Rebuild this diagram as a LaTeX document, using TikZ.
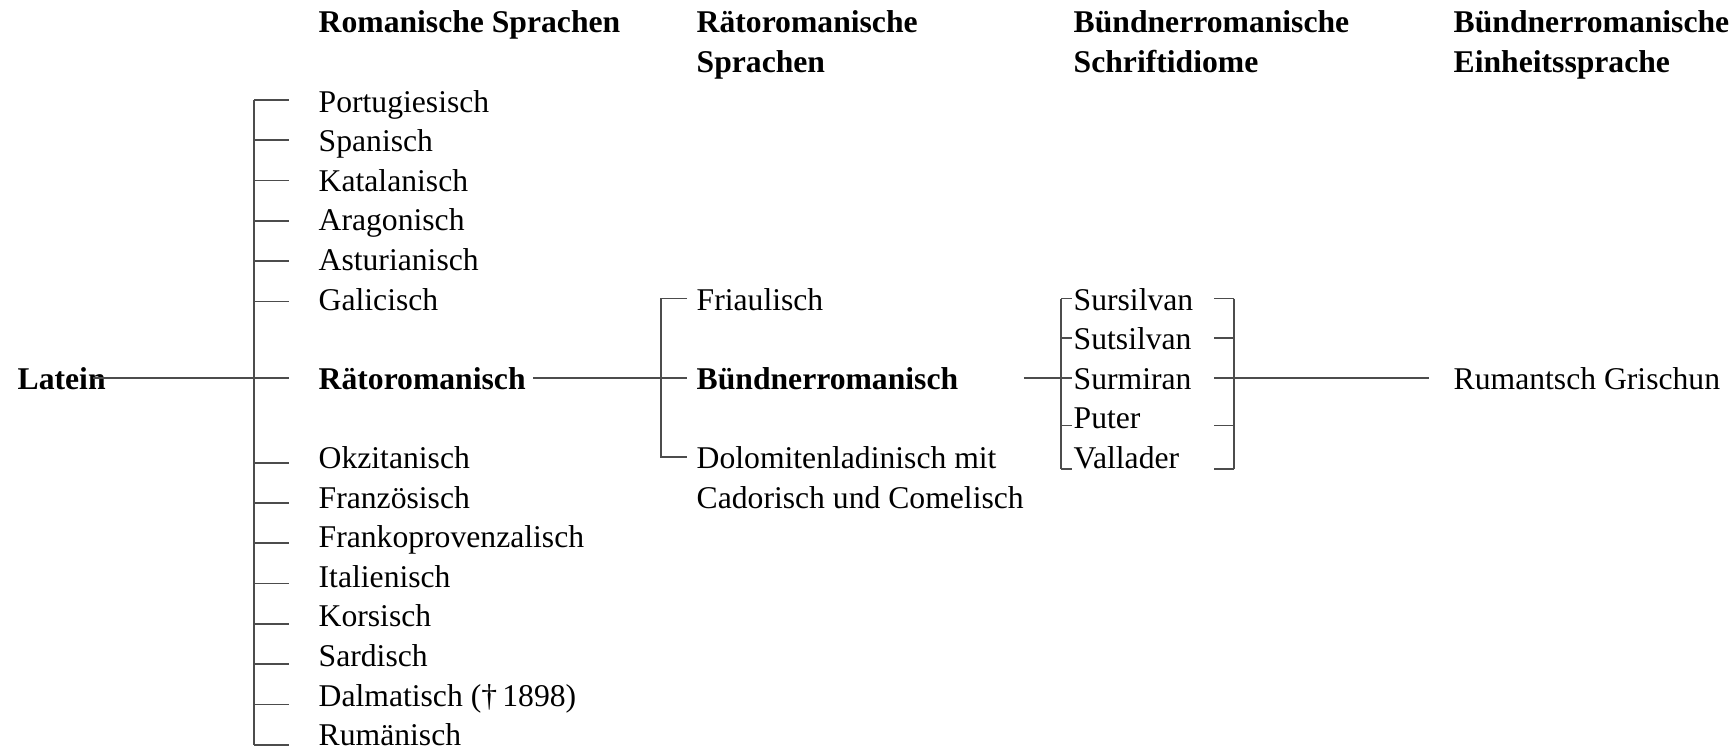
\documentclass[tikz,border=0pt]{standalone}
\usepackage{fontspec}
\setmainfont{Liberation Serif}
\usepackage{tikz}
\usetikzlibrary{positioning}

\newcommand{\diafont}{\fontsize{9}{11.27}\selectfont}

\tikzset{
  lang/.style={anchor=west, inner sep=0pt, text height=6.5pt, text depth=0pt, font=\diafont},
  bold/.style={font=\diafont\bfseries},
  head/.style={anchor=base west, inner sep=0pt, align=left, font=\diafont\bfseries},
  conn/.style={draw=black!70, line width=0.5pt},
}

\begin{document}
\begin{tikzpicture}[x=0.01cm, y=-0.01cm]
  \useasboundingbox (0,0) rectangle (1734,748);

  \node[head] (h1) at (318,32.8) {Romanische Sprachen};
  \node[head] (h2) at (696,72.4) {Rätoromanische\\Sprachen};
  \node[head] (h3) at (1073,72.4) {Bündnerromanische\\Schriftidiome};
  \node[head] (h4) at (1453,72.4) {Bündnerromanische\\Einheitssprache};

  \node[lang, bold] (latein) at (17,100.6+39.6*7) {Latein};

  \foreach \name/\k in {Portugiesisch/0, Spanisch/1, Katalanisch/2, Aragonisch/3,
      Asturianisch/4, Galicisch/5, Okzitanisch/9, Französisch/10,
      Frankoprovenzalisch/11, Italienisch/12, Korsisch/13, Sardisch/14,
      {Dalmatisch (\textdagger\,1898)}/15, Rumänisch/16}
    \node[lang] (rom\k) at (318,100.6+39.6*\k) {\name};
  \node[lang, bold] (rom7) at (318,100.6+39.6*7) {Rätoromanisch};

  \coordinate (t1) at (254,0);
  \foreach \k in {0,1,2,3,4,5,9,10,11,12,13,14,15,16}
    \draw[conn] (t1 |- rom\k.west) ++(0,{0.7*\k-0.6}) coordinate (tk\k) -- ++(35,0);
  \draw[conn] (tk0) -- (tk16);
  \draw[conn] ([xshift=-0.13cm]latein.east) -- (t1 |- rom7.west) -- ++(35,0);

  \node[lang] (friaul) at (696,100.6+39.6*5) {Friaulisch};
  \node[lang, bold] (buend) at (696,100.6+39.6*7) {Bündnerromanisch};
  \node[anchor=base west, inner sep=0pt, align=left, font=\diafont] (dolo) at (696,112+39.6*10)
    {Dolomitenladinisch mit\\Cadorisch und Comelisch};
  \coordinate (dtick) at ([yshift=0.51cm]dolo.base west);

  \coordinate (t2) at (661,0);
  \draw[conn] ([xshift=0.07cm]rom7.east) -- (t2 |- buend.west) -- ++(26,0);
  \draw[conn] ([xshift=-0.09cm]friaul.west) -| (t2 |- dtick) -- ([xshift=-0.09cm]dtick);

  \coordinate (b3) at (1061,0);
  \coordinate (b4) at (1234,0);
  \foreach \name/\k/\dy in {Sursilvan/5/0, Sutsilvan/6/0, Surmiran/7/0, Puter/8/8, Vallader/9/12} {
    \node[lang] (id\k) at (1073,100.6+39.6*\k) {\name};
    \draw[conn] (b3 |- id\k.west) ++(0,\dy) coordinate (il\k) -- ++(11,0);
    \draw[conn] (b4 |- id\k.west) ++(0,\dy) coordinate (ir\k) -- ++(-20,0);
  }
  \draw[conn] (il5) -- (il9);
  \draw[conn] (ir5) -- (ir9);
  \draw[conn] ([xshift=0.65cm]buend.east) -- (il7);

  \node[lang] (rg) at (1453,100.6+39.6*7) {Rumantsch Grischun};
  \draw[conn] (ir7) -- ([xshift=-0.24cm]rg.west);
\end{tikzpicture}
\end{document}
